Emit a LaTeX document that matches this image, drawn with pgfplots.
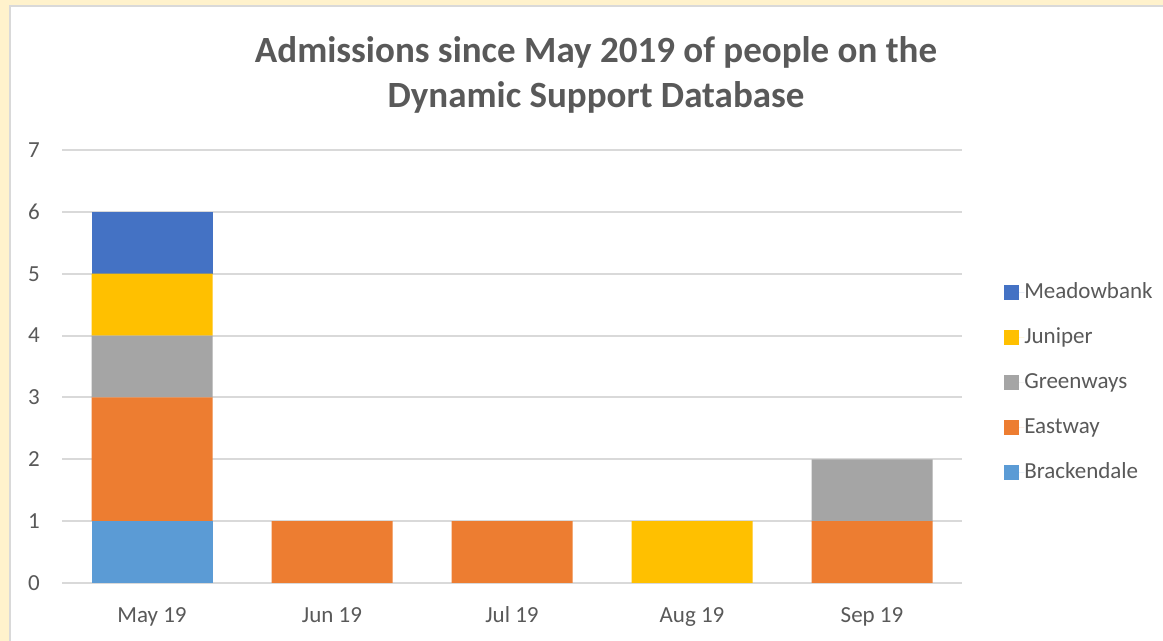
\documentclass[border=0pt]{standalone}
\usepackage{pgfplots}
\pgfplotsset{compat=1.18}
\usepackage{fontspec}
\setmainfont{Carlito}
\definecolor{bgyel}{HTML}{FFF2CC}
\definecolor{frameg}{HTML}{D9D9D9}
\definecolor{txtg}{HTML}{595959}
\definecolor{cMea}{HTML}{4472C4}
\definecolor{cJun}{HTML}{FFC000}
\definecolor{cGre}{HTML}{A5A5A5}
\definecolor{cEas}{HTML}{ED7D31}
\definecolor{cBra}{HTML}{5B9BD5}
\begin{document}
\begin{tikzpicture}[x=1bp,y=1bp]
\useasboundingbox (0,0) rectangle (1163,641);
\fill[bgyel] (0,0) rectangle (1163,641);
\fill[white] (10,0) rectangle (1163,635);
\draw[frameg,line width=2bp] (10,-2) -- (10,635) -- (1165,635);
\node[font=\fontsize{37bp}{45bp}\selectfont\bfseries,text=txtg,align=center,anchor=center] at (596,566) {Admissions since May 2019 of people on the\\Dynamic Support Database};
\begin{axis}[
  at={(152bp,58bp)}, anchor=origin,
  scale only axis, width=900bp, height=433bp,
  ybar stacked, bar width=121bp,
  xmin=-0.5, xmax=4.5, ymin=0, ymax=7,
  xtick={0,1,2,3,4},
  xticklabels={May 19,Jun 19,Jul 19,Aug 19,Sep 19},
  ytick={0,1,2,3,4,5,6,7},
  /pgf/number format/assume math mode=true,
  axis line style={draw=none},
  tick style={draw=none},
  ymajorgrids, grid style={frameg,line width=2bp},
  ticklabel style={font=\fontsize{23bp}{27bp}\selectfont,text=txtg},
  yticklabel style={inner sep=0pt,anchor=east,xshift=-22bp},
  xticklabel style={inner sep=0pt,anchor=north,text height=17bp,text depth=5bp,yshift=-22bp},
  reverse legend,
  legend style={draw=none,fill=none,at={(1.0434,0.462)},anchor=west,
    font=\fontsize{23bp}{27bp}\selectfont,text=txtg,
    nodes={inner sep=0pt,text height=17bp,text depth=5bp},
    row sep=23bp},
  legend cell align=left,
  legend image code/.code={\fill[#1] (0bp,-7.5bp) rectangle (15bp,7.5bp); \path (0bp,0bp) -- (20bp,0bp);},
]
\addplot[fill=cBra,draw=none] coordinates {(0,1) (1,0) (2,0) (3,0) (4,0)};
\addplot[fill=cEas,draw=none] coordinates {(0,2) (1,1) (2,1) (3,0) (4,1)};
\addplot[fill=cGre,draw=none] coordinates {(0,1) (1,0) (2,0) (3,0) (4,1)};
\addplot[fill=cJun,draw=none] coordinates {(0,1) (1,0) (2,0) (3,1) (4,0)};
\addplot[fill=cMea,draw=none] coordinates {(0,1) (1,0) (2,0) (3,0) (4,0)};
\legend{Brackendale,Eastway,Greenways,Juniper,Meadowbank}
\end{axis}
\end{tikzpicture}
\end{document}
